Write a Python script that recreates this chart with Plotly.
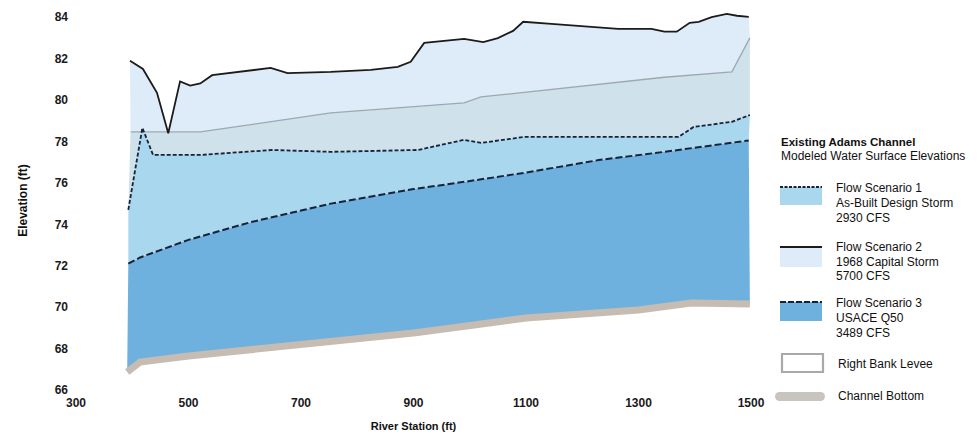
import plotly.graph_objects as go

# ---------------- data ----------------
bottom_st = [391, 414, 500, 700, 900, 1008, 1100, 1300, 1394, 1498]
bottom_el = [66.87, 67.35, 67.64, 68.17, 68.75, 69.14, 69.48, 69.86, 70.20, 70.15]

scen3_st = [393, 414, 500, 610, 753, 900, 990, 1100, 1229, 1346, 1496]
scen3_el = [72.10, 72.40, 73.25, 74.10, 75.00, 75.70, 76.05, 76.50, 77.10, 77.50, 78.05]

scen1_st = [393, 418, 437, 521, 649, 753, 908, 990, 1020, 1097, 1371, 1398, 1466, 1498]
scen1_el = [74.70, 78.66, 77.35, 77.35, 77.59, 77.50, 77.59, 78.08, 77.93, 78.22, 78.22, 78.70, 78.95, 79.28]

levee_st = [397, 521, 753, 990, 1020, 1346, 1466, 1498]
levee_el = [78.46, 78.46, 79.38, 79.86, 80.15, 81.10, 81.36, 83.00]

scen2_st = [396, 419, 444, 464, 485, 503, 521, 542, 646, 676, 753, 824, 872, 895, 919,
            990, 1024, 1050, 1077, 1095, 1145, 1216, 1264, 1323, 1346, 1368, 1391, 1407,
            1430, 1457, 1475, 1496]
scen2_el = [81.90, 81.50, 80.35, 78.40, 80.90, 80.70, 80.80, 81.20, 81.55, 81.30, 81.36,
            81.46, 81.60, 81.85, 82.76, 82.95, 82.80, 82.99, 83.34, 83.78, 83.68, 83.54,
            83.44, 83.44, 83.30, 83.30, 83.73, 83.78, 84.00, 84.16, 84.07, 84.02]

x_ticks = [300, 500, 700, 900, 1100, 1300, 1500]
y_ticks = [66, 68, 70, 72, 74, 76, 78, 80, 82, 84]

legend_title = "Existing Adams Channel"
legend_sub = "Modeled Water Surface Elevations"
legend_items = [
    ["Flow Scenario 1", "As-Built Design Storm", "2930 CFS"],
    ["Flow Scenario 2", "1968 Capital Storm", "5700 CFS"],
    ["Flow Scenario 3", "USACE Q50", "3489 CFS"],
    ["Right Bank Levee"],
    ["Channel Bottom"],
]

# ---------------- styles ----------------
C_S3 = "#6fb1de"
C_S1 = "#a9d8ee"
C_LEV = "#cfe1ea"
C_S2 = "#ddecf8"
C_BOT = "#c6bcb2"
C_LEVLINE = "#9ea8ae"
C_DARK = "#17223a"
FONT = "Liberation Sans, Arial, sans-serif"

# the page body has an 8px margin, so the figure is made 8px smaller
OFF = 8
W, H = 977 - OFF, 435 - OFF
# screen-pixel geometry of the plot area (ref picture)
L, R = 76, 751
Y_TOP_VAL, Y_BOT_VAL = 84.3, 66
PX_PER_FT = 373 / 18.0
B = 390
T = 17 - (Y_TOP_VAL - 84) * PX_PER_FT


def px(x):
    return (x - L) / (R - L)


def py(y):
    return (B - y) / (B - T)


fig = go.Figure()

# fills (stacked with tonexty)
fig.add_trace(go.Scatter(x=bottom_st, y=bottom_el, mode="lines", line=dict(width=0),
                         hoverinfo="skip", showlegend=False))
fig.add_trace(go.Scatter(x=scen3_st, y=scen3_el, mode="lines", line=dict(width=0),
                         fill="tonexty", fillcolor=C_S3, showlegend=False))
fig.add_trace(go.Scatter(x=scen1_st, y=scen1_el, mode="lines", line=dict(width=0),
                         fill="tonexty", fillcolor=C_S1, showlegend=False))
fig.add_trace(go.Scatter(x=levee_st, y=levee_el, mode="lines", line=dict(width=0),
                         fill="tonexty", fillcolor=C_LEV, showlegend=False))
fig.add_trace(go.Scatter(x=scen2_st, y=scen2_el, mode="lines", line=dict(width=0),
                         fill="tonexty", fillcolor=C_S2, showlegend=False))

# lines on top
fig.add_trace(go.Scatter(x=levee_st, y=levee_el, mode="lines",
                         line=dict(color=C_LEVLINE, width=1.3), showlegend=False))
fig.add_trace(go.Scatter(x=scen2_st, y=scen2_el, mode="lines",
                         line=dict(color="#1b1b1b", width=1.8), showlegend=False))
fig.add_trace(go.Scatter(x=scen1_st, y=scen1_el, mode="lines",
                         line=dict(color=C_DARK, width=1.8, dash="4px,2px"), showlegend=False))
fig.add_trace(go.Scatter(x=scen3_st, y=scen3_el, mode="lines",
                         line=dict(color=C_DARK, width=2, dash="7px,3px"), showlegend=False))
fig.add_trace(go.Scatter(x=bottom_st, y=bottom_el, mode="lines",
                         line=dict(color=C_BOT, width=7), showlegend=False))

# ---------------- legend (custom) ----------------
shapes = []
annotations = []
TXT = dict(family=FONT, size=12, color="#111")

annotations.append(dict(x=px(779), y=py(142), xref="paper", yref="paper", text="<b>" + legend_title + "</b>",
                        showarrow=False, xanchor="left", yanchor="middle",
                        font=dict(family=FONT, size=11.5, color="#111")))
annotations.append(dict(x=px(779), y=py(156), xref="paper", yref="paper", text=legend_sub,
                        showarrow=False, xanchor="left", yanchor="middle", font=TXT))

sw = [(187, 205, C_S1, "3px,1.5px"), (247, 267, C_S2, "solid"), (302, 321, C_S3, "6px,2px")]
for (y0, y1, col, dash) in sw:
    shapes.append(dict(type="rect", xref="paper", yref="paper", x0=px(780), x1=px(822),
                       y0=py(y1), y1=py(y0), fillcolor=col, line=dict(width=0), layer="above"))
    shapes.append(dict(type="line", xref="paper", yref="paper", x0=px(780), x1=px(822),
                       y0=py(y0), y1=py(y0), line=dict(color=C_DARK if dash != "solid" else "#1b1b1b",
                                                       width=2, dash=dash), layer="above"))

text_rows = [(188, 15), (247, 14.5), (303, 15)]
for item, (ytop, dy) in zip(legend_items[:3], text_rows):
    for k, line in enumerate(item):
        annotations.append(dict(x=px(834), y=py(ytop + k * dy), xref="paper", yref="paper", text=line,
                                showarrow=False, xanchor="left", yanchor="middle", font=TXT))

# levee box
shapes.append(dict(type="rect", xref="paper", yref="paper", x0=px(782), x1=px(823),
                   y0=py(372), y1=py(354), fillcolor="white",
                   line=dict(color="#a9a9a9", width=2.2), layer="above"))
annotations.append(dict(x=px(836), y=py(364), xref="paper", yref="paper", text=legend_items[3][0],
                        showarrow=False, xanchor="left", yanchor="middle", font=TXT))

# channel bottom pill
PILL = "#c8c5c1"
shapes.append(dict(type="line", xref="paper", yref="paper", x0=px(779), x1=px(821),
                   y0=py(396.5), y1=py(396.5), line=dict(color=PILL, width=9), layer="above"))
shapes.append(dict(type="circle", xref="paper", yref="paper", x0=px(775), x1=px(784),
                   y0=py(401), y1=py(392), fillcolor=PILL, line=dict(width=0), layer="above"))
shapes.append(dict(type="circle", xref="paper", yref="paper", x0=px(816), x1=px(825),
                   y0=py(401), y1=py(392), fillcolor=PILL, line=dict(width=0), layer="above"))
annotations.append(dict(x=px(836), y=py(396), xref="paper", yref="paper", text=legend_items[4][0],
                        showarrow=False, xanchor="left", yanchor="middle", font=TXT))

fig.update_layout(
    width=W, height=H,
    margin=dict(l=L - OFF, r=(977 - OFF) - (R - OFF), t=T - OFF, b=H - (B - OFF), pad=0),
    plot_bgcolor="white", paper_bgcolor="white",
    shapes=shapes, annotations=annotations,
    showlegend=False,
    xaxis=dict(range=[300, 1500], tickvals=x_ticks, ticktext=["<b>%d</b>" % v for v in x_ticks],
               showgrid=False, zeroline=False, showline=False, ticks="",
               ticklabelstandoff=4,
               tickfont=dict(family=FONT, size=12, color="#1a1a1a"),
               title=dict(text="<b>River Station (ft)</b>", font=dict(family=FONT, size=11, color="#111"),
                          standoff=13)),
    yaxis=dict(range=[Y_BOT_VAL, Y_TOP_VAL], tickvals=y_ticks, ticktext=["<b>%d</b>" % v for v in y_ticks],
               showgrid=False, zeroline=False, showline=False, ticks="",
               ticklabelstandoff=7,
               tickfont=dict(family=FONT, size=12, color="#1a1a1a"),
               title=dict(text="<b>Elevation (ft)</b>", font=dict(family=FONT, size=12, color="#111"),
                          standoff=24)),
)

fig.write_html("out.html")
